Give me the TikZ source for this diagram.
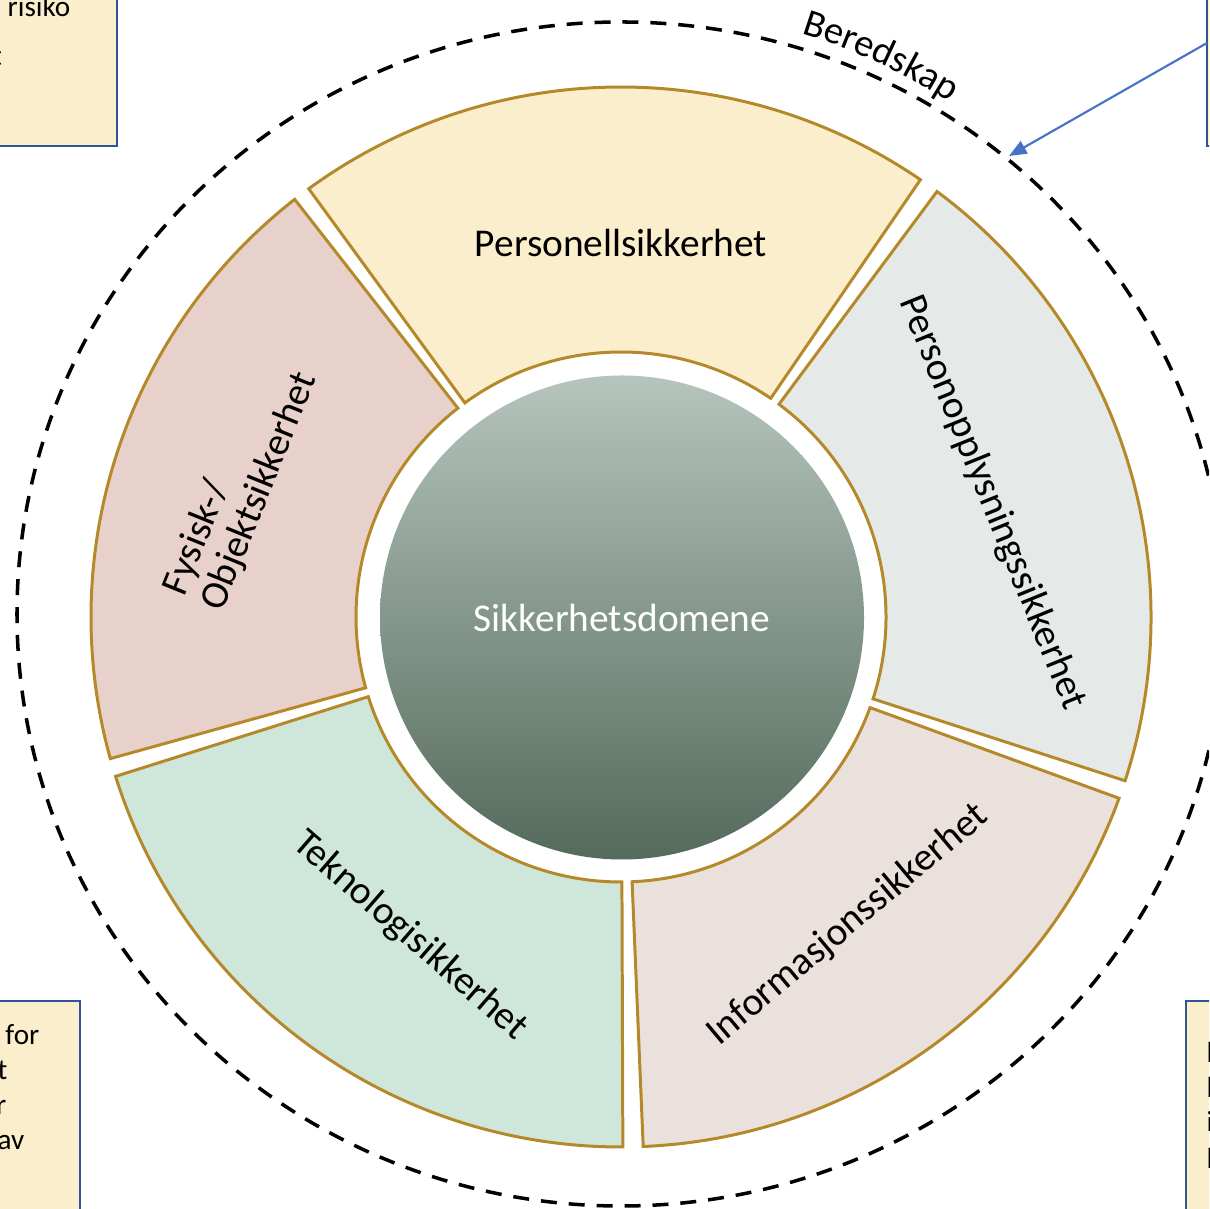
\documentclass[tikz,border=0pt]{standalone}
\usepackage{fontspec}
\setmainfont{Carlito}
\usetikzlibrary{calc,arrows.meta,decorations.text}
\definecolor{segline}{HTML}{B5892A}
\definecolor{fpers}{HTML}{FBEECC}
\definecolor{fpopl}{HTML}{E5E9E7}
\definecolor{finfo}{HTML}{EAE0DC}
\definecolor{ftekn}{HTML}{CFE7DA}
\definecolor{ffys}{HTML}{E8D1CB}
\definecolor{boxfill}{HTML}{FBEECC}
\definecolor{boxline}{HTML}{2F5597}
\definecolor{arrowblue}{HTML}{4472C4}
\definecolor{ctop}{HTML}{B5C4BC}
\definecolor{cmid}{HTML}{8FA597}
\definecolor{cbot}{HTML}{546A5C}
\newcommand{\annseg}[3]{%
  \draw[seg, fill=#3] ($(C)+(#1:530)$) arc[start angle=#1, end angle=#2, radius=530]
    -- ($(C)+(#2:265)$) arc[start angle=#2, end angle=#1, radius=265] -- cycle;}
\begin{document}
\begin{tikzpicture}[x=0.1mm,y=0.1mm,
  seg/.style={draw=segline, line width=0.85pt},
  lab/.style={font=\fontsize{11.2}{13.5}\selectfont, text=black, inner sep=0pt},
  boxstyle/.style={fill=boxfill, draw=boxline, line width=0.6pt},
  boxtext/.style={font=\fontsize{8.3}{10}\selectfont, inner sep=0pt},
  dashring/.style={draw=black, line width=1pt, dash pattern=on 4.55pt off 3.4pt},
  arrowline/.style={draw=arrowblue, line width=0.6pt, -{Triangle[length=5pt,width=4pt]}}]
\useasboundingbox (0,0) rectangle (1209,1209);
\clip (0,0) rectangle (1209,1209);
\fill[white] (0,0) rectangle (1209,1209);

\coordinate (C) at (621,592);
\coordinate (E) at (621,595);
\coordinate (Ci) at (622,591.5);

% corner boxes (partly outside the picture)
\draw[boxstyle] (-60,1063) rectangle (117,1280);
\draw[boxstyle] (1207,1063) rectangle (1300,1280);
\draw[boxstyle] (-60,-60) rectangle (80,208);
\draw[boxstyle] (1186,-60) rectangle (1300,208);

\node[boxtext, anchor=base west] (tl1) at (7,1192) {risiko};
\node[boxtext, anchor=base east] (tl2) at (2.5,1143) {t};

\node[boxtext, anchor=base east] (bl1) at (40,164) {for};
\node[boxtext, anchor=base east] (bl2) at (8,129) {t};
\node[boxtext, anchor=base east] (bl3) at (7,94) {r};
\node[boxtext, anchor=base east] (bl4) at (25,59) {av};

\node[boxtext, anchor=base west] (br1) at (1206,146) {l};
\node[boxtext, anchor=base west] (br2) at (1206,111) {l};
\node[boxtext, anchor=base west] (br3) at (1206,77) {i};
\node[boxtext, anchor=base west] (br4) at (1206,41) {l};

% dashed ring
\draw[dashring] (E) ellipse[x radius=604, y radius=592];
\path[decorate, decoration={text along path,
  text={|\fontsize{11}{13}\selectfont|Beredskap}, text align=center}]
  ($(E)+(80:608)$) arc[start angle=80, end angle=50, radius=608];

% arrow from the upper right box
\coordinate (astart) at (1207,1166);
\coordinate (aend) at (1009,1053);
\draw[arrowline] (astart) -- (aend);

% segments
\annseg{55.6}{126.1}{fpers}
\annseg{-18}{53.4}{fpopl}
\annseg{-87.6}{-20}{finfo}
\annseg{-162.5}{-89.8}{ftekn}
\annseg{128}{195.5}{ffys}

% centre circle
\shade[top color=ctop, middle color=cmid, bottom color=cbot] (Ci) circle[radius=242];
\node[lab, text=white] (centre) at (Ci) {Sikkerhetsdomene};

% segment labels
\node[lab] (pers) at (621,966) {Personellsikkerhet};
\node[lab, rotate=-68] (popl) at (992,706) {Personopplysningssikkerhet};
\node[lab, rotate=40] (info) at (848,284) {Informasjonssikkerhet};
\node[lab, rotate=-41] (tekn) at (410,273) {Teknologisikkerhet};
\node[lab, rotate=68, align=left, font=\fontsize{11.2}{11.5}\selectfont] (fys) at (241,725) {Fysisk-/\\Objektsikkerhet};
\end{tikzpicture}
\end{document}
